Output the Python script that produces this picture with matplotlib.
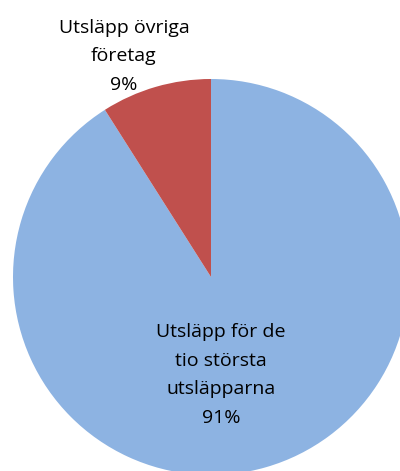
import matplotlib.pyplot as plt

labels = ['Utsläpp för de\ntio största\nutsläpparna', 'Utsläpp övriga\nföretag']
values = [91, 9]
colors = ['#8DB3E2', '#C0504D']

plt.rcParams['font.family'] = ['Open Sans', 'DejaVu Sans']

fig = plt.figure(figsize=(4.0, 4.71), dpi=100)
# pie center ~ (211, 277) px, radius ~198 px
ax = fig.add_axes([13 / 400, (471 - 475) / 471, 396 / 400, 396 / 471])
wedges, _ = ax.pie(values, colors=colors, startangle=90, counterclock=False,
                   radius=1, wedgeprops=dict(linewidth=0))
ax.set_xlim(-1, 1)
ax.set_ylim(-1, 1)
ax.set_aspect('equal')
ax.axis('off')

# data labels
label_pos = [(0.05, -0.495), (-0.44, 1.115)]
for lab, v, (x, y) in zip(labels, values, label_pos):
    ax.text(x, y, f'{lab}\n{v}%', ha='center', va='center', fontsize=14,
            linespacing=1.75, color='black', clip_on=False)

fig.savefig('out.png', dpi=100)
